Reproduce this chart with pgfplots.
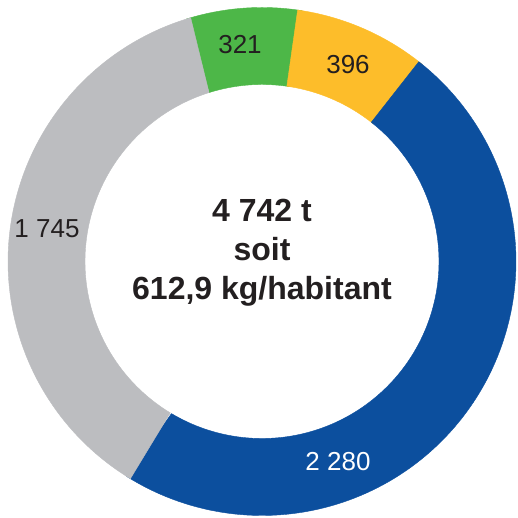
\documentclass[border=0pt]{standalone}
\usepackage{pgfplots}
\pgfplotsset{compat=1.18}
\usepackage{fontspec}
\setmainfont{Liberation Sans}
\definecolor{cgreen}{HTML}{4DB748}
\definecolor{cyellow}{HTML}{FDBD2A}
\definecolor{cblue}{HTML}{0C4F9E}
\definecolor{cgrey}{HTML}{BCBDC0}
\definecolor{ctext}{HTML}{231F20}
% values (t)
\def\vA{321}  % green
\def\vB{396}  % yellow
\def\vC{2280} % blue
\def\vD{1745} % grey
\pgfmathsetmacro{\tot}{\vA+\vB+\vC+\vD}
\pgfmathsetmacro{\aS}{106.3}
\pgfmathsetmacro{\aA}{\aS-\vA/\tot*360}
\pgfmathsetmacro{\aB}{\aA-\vB/\tot*360}
\pgfmathsetmacro{\aC}{\aB-\vC/\tot*360}
\pgfmathsetmacro{\aD}{\aC-\vD/\tot*360}
\pgfmathsetmacro{\aSx}{\aS+1}
\pgfmathsetmacro{\aAx}{\aA-1}
\pgfmathsetmacro{\aBx}{\aB-1}
\pgfmathsetmacro{\aCx}{\aC-1}
\def\cx{262}\def\cy{256.5}\def\Ro{254}\def\Ri{177}
\newcommand{\seg}[3]{%
  \addplot[fill=#1, draw=#1, line width=0.4pt, domain=0:2, samples=241, variable=\t]
   ({\cx+((\t<=1.0001)?\Ro:\Ri)*cos(#2+(#3-(#2))*((\t<=1.0001)?\t:(2-\t)))},
    {\cy+((\t<=1.0001)?\Ro:\Ri)*sin(#2+(#3-(#2))*((\t<=1.0001)?\t:(2-\t)))}) -- cycle;}
\begin{document}
\begin{tikzpicture}
\begin{axis}[scale only axis, width=517pt, height=518pt,
  xmin=0, xmax=517, ymin=0, ymax=518, hide axis, clip=false]
\path (axis cs:0,0) rectangle (axis cs:517,518);
\seg{cgreen}{\aSx}{\aAx}
\seg{cyellow}{\aA}{\aBx}
\seg{cblue}{\aB}{\aCx}
\seg{cgrey}{\aC}{\aD}
\node[text=ctext, font=\fontsize{26}{30}\selectfont] at (axis cs:240,473) {321};
\node[text=ctext, font=\fontsize{26}{30}\selectfont] at (axis cs:348,453) {396};
\node[text=white, font=\fontsize{26}{30}\selectfont] at (axis cs:338,56) {2~280};
\node[text=ctext, font=\fontsize{26}{30}\selectfont] at (axis cs:47,289) {1~745};
\node[text=ctext, font=\bfseries\fontsize{32}{39}\selectfont, align=center] at (axis cs:262,265)
  {4 742 t\\soit\\612,9 kg/habitant};
\end{axis}
\end{tikzpicture}
\end{document}
